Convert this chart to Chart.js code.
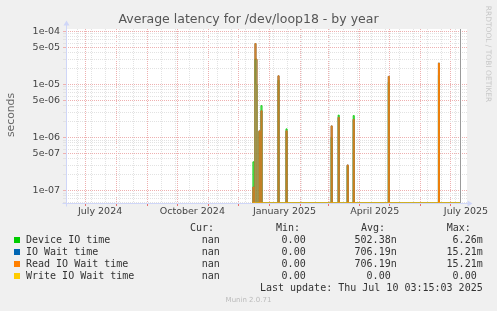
<!DOCTYPE html>
<html><head><meta charset="utf-8">
<script src="https://cdn.jsdelivr.net/npm/chart.js@4.4.0/dist/chart.umd.min.js"></script>
<style>
html,body{margin:0;padding:0;background:#f0f0f0;}
#wrap{position:relative;width:497px;height:311px;overflow:hidden;background:#f0f0f0;}
canvas{position:absolute;left:0;top:0;}
.t{position:absolute;white-space:pre;font-family:"DejaVu Sans";}
.m{position:absolute;white-space:pre;font-family:"DejaVu Sans Mono";font-size:10px;line-height:10px;color:#333;}
.sq{position:absolute;width:6px;height:6px;}
</style></head><body>
<div id="wrap">
<canvas id="c" width="497" height="311"></canvas>
<div class="t" id="title" style="left:0;width:497px;text-align:center;top:13.4px;font-size:12.5px;line-height:12.5px;color:#555;"></div>
<div class="t" id="ylab" style="left:-29px;width:80px;height:12px;text-align:center;top:108.5px;font-size:10.8px;line-height:12px;color:#666;transform:rotate(-90deg);"></div>
<div class="t" id="rrd" style="left:428px;width:120px;height:8px;text-align:center;top:49.5px;font-size:7.5px;line-height:8px;color:#c8c8c8;transform:rotate(90deg);"></div>
<div class="t" id="munin" style="left:0;width:497px;text-align:center;top:296.8px;font-size:7px;line-height:7px;color:#bbbbbb;"></div>
</div>
<script>
// ---------------- data ----------------
const titleText = 'Average latency for /dev/loop18 - by year';
const yAxisTitle = 'seconds';
const sideText = 'RRDTOOL / TOBI OETIKER';
const footerText = 'Munin 2.0.71';

const seriesNames = ['Device IO time', 'IO Wait time', 'Read IO Wait time', 'Write IO Wait time'];
const seriesColors = ['#00cc00', '#0066b3', '#ff8000', '#ffcc00'];
const curValues = ['nan', 'nan', 'nan', 'nan'];
const minValues = ['0.00 ', '0.00 ', '0.00 ', '0.00 '];
const avgValues = ['502.38n', '706.19n', '706.19n', '0.00 '];
const maxValues = ['6.26m', '15.21m', '15.21m', '0.00 '];
const lastUpdateText = 'Last update: Thu Jul 10 03:15:03 2025';

const dataStart = '2024-12-15';
const lastUpdate = '2025-07-10T03:15:03';
const spikeDates = ['2024-12-16','2024-12-18','2024-12-19','2024-12-22','2024-12-24','2025-01-10','2025-01-18',
                    '2025-03-04','2025-03-11','2025-03-20','2025-03-26','2025-04-30','2025-06-19'];
const deviceIOTime   = [3.5e-7, 3.0e-5, 1.0e-5, 1.3e-6, 4.0e-6, 1.2e-5, 1.46e-6, 1.0e-6, 2.65e-6, 2.9e-7, 2.6e-6, 1.1e-5, 1.5e-5];
const ioWaitTime     = [1.17e-7, 5.9e-5, 3.0e-5, 1.34e-6, 3.2e-6, 1.46e-5, 1.34e-6, 1.66e-6, 2.4e-6, 3.05e-7, 2.2e-6, 1.42e-5, 2.53e-5];
const readIOWaitTime = [1.17e-7, 5.9e-5, 3.0e-5, 1.34e-6, 3.2e-6, 1.46e-5, 1.34e-6, 1.66e-6, 2.4e-6, 3.05e-7, 2.2e-6, 1.42e-5, 2.53e-5];
const writeIOWaitTime= [0, 0, 0, 0, 0, 0, 0, 0, 0, 0, 0, 0, 0];

const xRangeStart = '2024-06-12';
const xRangeEnd = '2025-07-18';
const xTickLabels = ['July 2024', 'October 2024', 'January 2025', 'April 2025', 'July 2025'];
const xLabelDates = ['2024-07-16', '2024-10-16', '2025-01-16', '2025-04-16', '2025-07-16'];
const monthGridDates = ['2024-07-01','2024-08-01','2024-09-01','2024-10-01','2024-11-01','2024-12-01','2025-01-01',
                        '2025-02-01','2025-03-01','2025-04-01','2025-05-01','2025-06-01','2025-07-01'];
const minorGridStart = '2024-06-23';
const yTickLabels = ['1e-07', '5e-07', '1e-06', '5e-06', '1e-05', '5e-05', '1e-04'];
const yMin = 5.86e-8, yMax = 1.11e-4;

// ---------------- helpers ----------------
const EPOCH = Date.UTC(2024, 6, 1);
function dayOf(s) { const d = new Date(s + (s.length <= 10 ? 'T00:00:00Z' : 'Z')); return (d.getTime() - EPOCH) / 86400000; }
// a log axis cannot show 0: like rrdtool, zero is drawn on the bottom edge of the graph
function plotY(v) { return v > 0 ? v : yMin; }

function buildSeries(values) {
  const map = new Map();
  spikeDates.forEach((d, i) => map.set(Math.round(dayOf(d)), values[i]));
  const s = Math.round(dayOf(dataStart)), e = Math.floor(dayOf(lastUpdate));
  const pts = new Map();
  pts.set(s, 0); pts.set(e, 0);
  for (const [d] of map) {
    if (!map.has(d - 1)) pts.set(d - 1, 0);
    if (!map.has(d + 1)) pts.set(d + 1, 0);
  }
  for (const [d, v] of map) pts.set(d, v);
  return [...pts.entries()].sort((a, b) => a[0] - b[0]).map(([x, y]) => ({x, y: plotY(y)}));
}

const RED = '#eeb0b0', GRAY = '#e2e2e2', AXIS = '#cfd6f8', TXT = '#444';

// y ticks
const yTicks = [];
for (let e = -8; e <= -4; e++) {
  for (let m = 1; m <= 9; m++) {
    const v = Number(m + 'e' + e);
    if (v < yMin || v > yMax) continue;
    const lab = (m + 'e-0' + (-e));
    const big = yTickLabels.includes(lab);
    yTicks.push({value: v, big, lab: big ? lab : ''});
  }
}
// x ticks
const xMin = dayOf(xRangeStart), xMax = dayOf(xRangeEnd) - 1;
const xTicks = [];
for (let d = dayOf(minorGridStart); d <= xMax; d += 14) xTicks.push({value: d, kind: 'minor', lab: ''});
monthGridDates.forEach(s => xTicks.push({value: dayOf(s), kind: 'month', lab: ''}));
xLabelDates.forEach((s, i) => xTicks.push({value: dayOf(s), kind: 'label', lab: xTickLabels[i]}));
xTicks.sort((a, b) => a.value - b.value);

// ---------------- texts ----------------
document.getElementById('title').textContent = titleText;
document.getElementById('ylab').textContent = yAxisTitle;
document.getElementById('rrd').textContent = sideText;
document.getElementById('munin').textContent = footerText;
const wrap = document.getElementById('wrap');
function addText(txt, baseline, opts) {
  const el = document.createElement('div');
  el.className = 'm';
  el.textContent = txt;
  el.style.top = (baseline - 8.46) + 'px';
  if (opts.left !== undefined) el.style.left = opts.left + 'px';
  if (opts.right !== undefined) { el.style.right = (497 - opts.right) + 'px'; el.style.textAlign = 'right'; }
  wrap.appendChild(el);
}
const headB = 231.3;
addText('Cur:', headB, {left: 190});
addText('Min:', headB, {left: 276});
addText('Avg:', headB, {left: 361});
addText('Max:', headB, {left: 446.7});
seriesNames.forEach((n, i) => {
  const b = headB + 12 * (i + 1);
  const sq = document.createElement('div');
  sq.className = 'sq'; sq.style.left = '14px'; sq.style.top = (b - 6.6) + 'px'; sq.style.background = seriesColors[i];
  wrap.appendChild(sq);
  addText(n, b, {left: 26});
  addText(curValues[i], b, {right: 219.7});
  addText(minValues[i], b, {right: 311.7});
  addText(avgValues[i], b, {right: 396.7});
  addText(maxValues[i], b, {right: 482.7});
});
addText(lastUpdateText, headB + 60, {right: 482.7});

// ---------------- chart ----------------
const seriesValues = [deviceIOTime, ioWaitTime, readIOWaitTime, writeIOWaitTime];
const datasets = seriesNames.map((n, i) => ({
  label: n,
  data: buildSeries(seriesValues[i]),
  borderColor: seriesColors[i],
  borderWidth: 1,
  pointRadius: 0,
  stepped: 'middle',
  fill: false,
  order: 3 - i
}));

const plotBg = {
  id: 'plotBg',
  beforeDraw(chart) {
    const {ctx, chartArea: a} = chart;
    ctx.save(); ctx.fillStyle = '#ffffff';
    ctx.fillRect(a.left, a.top, a.right - a.left, a.bottom - a.top);
    ctx.restore();
  },
  beforeDatasetsDraw(chart) {
    const {ctx, chartArea: a} = chart;
    ctx.save();
    ctx.strokeStyle = AXIS; ctx.fillStyle = AXIS; ctx.lineWidth = 1;
    const L = Math.round(a.left) + 0.5, B = Math.round(a.bottom) + 0.5, T = Math.round(a.top), R = Math.round(a.right);
    ctx.beginPath(); ctx.moveTo(L, B + 3); ctx.lineTo(L, T - 4); ctx.stroke();
    ctx.beginPath(); ctx.moveTo(L - 3, T - 3.5); ctx.lineTo(L + 3, T - 3.5); ctx.lineTo(L, T - 8.5); ctx.closePath(); ctx.fill();
    ctx.beginPath(); ctx.moveTo(L - 4, B); ctx.lineTo(R + 1, B); ctx.stroke();
    ctx.beginPath(); ctx.moveTo(R + 0.5, B - 3); ctx.lineTo(R + 0.5, B + 3); ctx.lineTo(R + 5.5, B); ctx.closePath(); ctx.fill();
    // last update rule
    const xs = chart.scales.x;
    const px = Math.round(xs.getPixelForValue(dayOf(lastUpdate))) + 0.5;
    ctx.strokeStyle = '#9a9a9a';
    ctx.beginPath(); ctx.moveTo(px, a.top); ctx.lineTo(px, a.bottom); ctx.stroke();
    ctx.restore();
  }
};

new Chart(document.getElementById('c'), {
  type: 'line',
  data: {datasets},
  plugins: [plotBg],
  options: {
    responsive: false, animation: false, events: [],
    layout: {padding: {top: 29, right: 30, left: 0, bottom: 0}},
    plugins: {legend: {display: false}, title: {display: false}, tooltip: {enabled: false}},
    scales: {
      x: {
        type: 'linear', min: xMin, max: xMax, bounds: 'data',
        afterBuildTicks: s => { s.ticks = xTicks.map(t => ({...t})); },
        afterFit: s => { s.height = 108; },
        ticks: {autoSkip: false, maxRotation: 0, minRotation: 0, padding: 0, color: TXT,
                font: {family: 'DejaVu Sans', size: 9.5},
                callback: (v, i, t) => t[i].lab},
        grid: {
          color: c => c.tick ? (c.tick.kind === 'month' ? RED : c.tick.kind === 'minor' ? GRAY : 'rgba(0,0,0,0)') : GRAY,
          tickColor: c => c.tick && c.tick.kind === 'month' ? '#e47070' : 'rgba(0,0,0,0)',
          tickLength: 3, lineWidth: 1
        },
        border: {display: false, dash: [1, 1]}
      },
      y: {
        type: 'logarithmic', min: yMin, max: yMax, bounds: 'data',
        afterBuildTicks: s => { s.ticks = yTicks.map(t => ({...t})); },
        afterFit: s => { s.width = 66; },
        ticks: {autoSkip: false, padding: 3, color: TXT,
                font: {family: 'DejaVu Sans', size: 9.5},
                callback: (v, i, t) => t[i].lab},
        grid: {
          color: c => c.tick && c.tick.big ? RED : GRAY,
          tickColor: c => c.tick && c.tick.big ? RED : GRAY,
          tickLength: 3, lineWidth: 1
        },
        border: {display: false, dash: [1, 1]}
      }
    }
  }
});
</script>
</body></html>
